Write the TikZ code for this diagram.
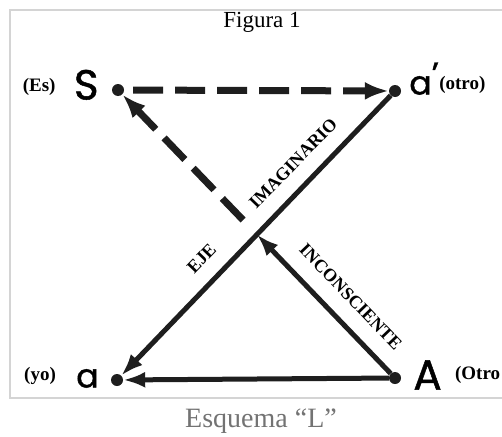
\documentclass[tikz,border=0pt]{standalone}
\usepackage{fontspec}
\setmainfont{Liberation Serif}
\newfontfamily\handfont[FakeBold=1.2]{Poppins}
\usepackage{xcolor}
\usepackage{tikz}
\usetikzlibrary{arrows.meta,positioning,calc}
\definecolor{ink}{HTML}{1E1E1E}
\definecolor{framegray}{HTML}{D4D4D4}
\definecolor{captiongray}{HTML}{737373}
\tikzset{
	dot/.style={circle, fill=ink, inner sep=0pt, minimum size=12pt},
	letter/.style={font=\handfont\fontsize{42}{42}\selectfont, inner sep=0pt, text height=29pt, text depth=0pt},
	smallletter/.style={font=\handfont\fontsize{33}{33}\selectfont, inner sep=0pt, text height=23pt, text depth=0pt},
	tag/.style={font=\bfseries\fontsize{19}{19}\selectfont, inner sep=0pt},
	axislabel/.style={font=\bfseries\fontsize{18}{18}\selectfont, inner sep=0pt, sloped},
	solidarrow/.style={-{Latex[length=22pt,width=16pt]}, line width=5pt, draw=ink},
	dashedarrow/.style={-{Latex[length=24pt,width=18pt]}, line width=7pt, draw=ink, dash pattern=on 30pt off 12pt}
}
\begin{document}
\begin{tikzpicture}[x=1pt, y=-1pt]
	\useasboundingbox (0,0) rectangle (502,436);
	\draw[framegray, line width=1.2pt] (502,10) -- (10,10) -- (10,398) -- (502,398);
	\node[font=\fontsize{23}{23}\selectfont] (title) at (262,22) {Figura 1};
	\node[font=\fontsize{28}{28}\selectfont, text=captiongray] (caption) at (261,421) {Esquema “L”};

	\node[dot] (S) at (118,90) {};
	\node[dot] (ap) at (395,91) {};
	\node[dot] (a) at (117,380) {};
	\node[dot] (A) at (395,378) {};
	\coordinate (X) at (intersection of A--S and ap--a);

	\node[letter, left=13pt of S, yshift=5pt] (Sl) {S};
	\node[tag, left=18pt of Sl, yshift=-2pt] (es) {(Es)};
	\node[smallletter, right=8pt of ap, yshift=8pt] (apl) {a\raisebox{9pt}{’}};
	\node[tag, right=0pt of apl, yshift=-2pt] (otro) {(otro)};
	\node[smallletter, left=12pt of a, yshift=4pt] (al) {a};
	\node[tag, left=20pt of al] (yo) {(yo)};
	\node[letter, right=12pt of A, yshift=3pt] (Al) {A};
	\node[tag, right=13pt of Al] (Otro) {(Otro};

	\draw[dashedarrow, shorten <=9pt] (S) -- (ap);
	\draw[solidarrow] (ap) -- (a);
	\draw[solidarrow] (A) -- (a);
	\draw[solidarrow] (A) -- (X);
	\draw[dashedarrow, shorten <=20pt] (X) -- (S);

	\path (a) -- (ap) node[axislabel, pos=0.70, above=17pt] {IMAGINARIO}
		node[axislabel, pos=0.36, above=17pt] {EJE};
	\path (X) -- (A) node[axislabel, pos=0.57, above=18pt] {INCONSCIENTE};
\end{tikzpicture}
\end{document}
